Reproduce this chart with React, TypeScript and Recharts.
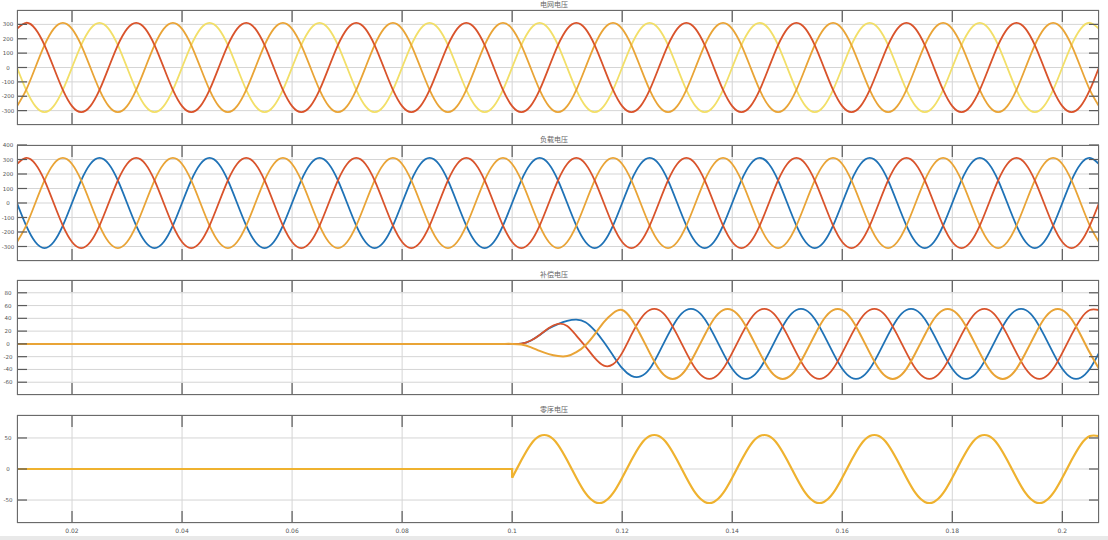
import React from 'react';
import { LineChart, Line, XAxis, YAxis, CartesianGrid } from 'recharts';

// x = sample index, one step = 1/12 of a 50 Hz cycle (20 ms / 12)
const sampleIdx = Array.from({ length: 119 }, (_, i) => i + 6);
const timeTicks = [12, 24, 36, 48, 60, 72, 84, 96, 108, 120];
const timeLabels = ['0.02', '0.04', '0.06', '0.08', '0.1', '0.12', '0.14', '0.16', '0.18', '0.2'];
const ONSET = 60; // t = 0.1 s

const titles = ['电网电压', '负载电压', '补偿电压', '零序电压'];

const gridTicks = [-300, -200, -100, 0, 100, 200, 300];
const loadTicks = [-300, -200, -100, 0, 100, 200, 300, 400];
const compTicks = [-60, -40, -20, 0, 20, 40, 60, 80];
const zeroTicks = [-50, 0, 50];

// grid / load voltage (same in both panels), phase a, b, c
const gridA = [
  269, 311, 269, 156, 0, -156, -269, -311, -269, -156, 0, 156,
  269, 311, 269, 156, 0, -156, -269, -311, -269, -156, 0, 156,
  269, 311, 269, 156, 0, -156, -269, -311, -269, -156, 0, 156,
  269, 311, 269, 156, 0, -156, -269, -311, -269, -156, 0, 156,
  269, 311, 269, 156, 0, -156, -269, -311, -269, -156, 0, 156,
  269, 311, 269, 156, 0, -156, -269, -311, -269, -156, 0, 156,
  269, 311, 269, 156, 0, -156, -269, -311, -269, -156, 0, 156,
  269, 311, 269, 156, 0, -156, -269, -311, -269, -156, 0, 156,
  269, 311, 269, 156, 0, -156, -269, -311, -269, -156, 0, 156,
  269, 311, 269, 156, 0, -156, -269, -311, -269, -156, 0,
];
const gridB = [
  -269, -156, 0, 156, 269, 311, 269, 156, 0, -156, -269, -311,
  -269, -156, 0, 156, 269, 311, 269, 156, 0, -156, -269, -311,
  -269, -156, 0, 156, 269, 311, 269, 156, 0, -156, -269, -311,
  -269, -156, 0, 156, 269, 311, 269, 156, 0, -156, -269, -311,
  -269, -156, 0, 156, 269, 311, 269, 156, 0, -156, -269, -311,
  -269, -156, 0, 156, 269, 311, 269, 156, 0, -156, -269, -311,
  -269, -156, 0, 156, 269, 311, 269, 156, 0, -156, -269, -311,
  -269, -156, 0, 156, 269, 311, 269, 156, 0, -156, -269, -311,
  -269, -156, 0, 156, 269, 311, 269, 156, 0, -156, -269, -311,
  -269, -156, 0, 156, 269, 311, 269, 156, 0, -156, -269,
];
const gridC = [
  0, -156, -269, -311, -269, -156, 0, 156, 269, 311, 269, 156,
  0, -156, -269, -311, -269, -156, 0, 156, 269, 311, 269, 156,
  0, -156, -269, -311, -269, -156, 0, 156, 269, 311, 269, 156,
  0, -156, -269, -311, -269, -156, 0, 156, 269, 311, 269, 156,
  0, -156, -269, -311, -269, -156, 0, 156, 269, 311, 269, 156,
  0, -156, -269, -311, -269, -156, 0, 156, 269, 311, 269, 156,
  0, -156, -269, -311, -269, -156, 0, 156, 269, 311, 269, 156,
  0, -156, -269, -311, -269, -156, 0, 156, 269, 311, 269, 156,
  0, -156, -269, -311, -269, -156, 0, 156, 269, 311, 269, 156,
  0, -156, -269, -311, -269, -156, 0, 156, 269, 311, 269,
];

// compensation voltage, starts at 0.1 s
const compRed = [
  0, 0, 0, 0, 0, 0, 0, 0, 0, 0, 0, 0,
  0, 0, 0, 0, 0, 0, 0, 0, 0, 0, 0, 0,
  0, 0, 0, 0, 0, 0, 0, 0, 0, 0, 0, 0,
  0, 0, 0, 0, 0, 0, 0, 0, 0, 0, 0, 0,
  0, 0, 0, 0, 0, 0, 0, 0.5, 5, 14, 25, 31.5,
  28, 13, -4, -22, -34, -32, -14, 14, 39, 53, 53, 39,
  14, -14, -39, -53, -53, -39, -14, 14, 39, 53, 53, 39,
  14, -14, -39, -53, -53, -39, -14, 14, 39, 53, 53, 39,
  14, -14, -39, -53, -53, -39, -14, 14, 39, 53, 53, 39,
  14, -14, -39, -53, -53, -39, -14, 14, 39, 53, 53,
];
const compOrange = [
  0, 0, 0, 0, 0, 0, 0, 0, 0, 0, 0, 0,
  0, 0, 0, 0, 0, 0, 0, 0, 0, 0, 0, 0,
  0, 0, 0, 0, 0, 0, 0, 0, 0, 0, 0, 0,
  0, 0, 0, 0, 0, 0, 0, 0, 0, 0, 0, 0,
  0, 0, 0, 0, 0, 0, 0, -1, -5, -11, -16, -19,
  -19, -13, -2, 15, 34, 48, 53, 39, 14, -14, -39, -53,
  -53, -39, -14, 14, 39, 53, 53, 39, 14, -14, -39, -53,
  -53, -39, -14, 14, 39, 53, 53, 39, 14, -14, -39, -53,
  -53, -39, -14, 14, 39, 53, 53, 39, 14, -14, -39, -53,
  -53, -39, -14, 14, 39, 53, 53, 39, 14, -14, -39,
];
const compBlue = [
  0, 0, 0, 0, 0, 0, 0, 0, 0, 0, 0, 0,
  0, 0, 0, 0, 0, 0, 0, 0, 0, 0, 0, 0,
  0, 0, 0, 0, 0, 0, 0, 0, 0, 0, 0, 0,
  0, 0, 0, 0, 0, 0, 0, 0, 0, 0, 0, 0,
  0, 0, 0, 0, 0, 0, 0, 0.5, 5, 14, 24, 31,
  36, 38, 34, 21, 3, -18, -38, -50, -51, -39, -14, 14,
  39, 53, 53, 39, 14, -14, -39, -53, -53, -39, -14, 14,
  39, 53, 53, 39, 14, -14, -39, -53, -53, -39, -14, 14,
  39, 53, 53, 39, 14, -14, -39, -53, -53, -39, -14, 14,
  39, 53, 53, 39, 14, -14, -39, -53, -53, -39, -14,
];

// zero sequence voltage
const zeroSeq = [
  0, 0, 0, 0, 0, 0, 0, 0, 0, 0, 0, 0,
  0, 0, 0, 0, 0, 0, 0, 0, 0, 0, 0, 0,
  0, 0, 0, 0, 0, 0, 0, 0, 0, 0, 0, 0,
  0, 0, 0, 0, 0, 0, 0, 0, 0, 0, 0, 0,
  0, 0, 0, 0, 0, 0, -14, 14, 39, 53, 53, 39,
  14, -14, -39, -53, -53, -39, -14, 14, 39, 53, 53, 39,
  14, -14, -39, -53, -53, -39, -14, 14, 39, 53, 53, 39,
  14, -14, -39, -53, -53, -39, -14, 14, 39, 53, 53, 39,
  14, -14, -39, -53, -53, -39, -14, 14, 39, 53, 53, 39,
  14, -14, -39, -53, -53, -39, -14, 14, 39, 53, 53,
];

const gridRows = sampleIdx.map((n, i) => ({ n, a: gridA[i], b: gridB[i], c: gridC[i] }));
const compRows = sampleIdx.map((n, i) => ({ n, r: compRed[i], o: compOrange[i], b: compBlue[i] }));
const zeroRows = sampleIdx.map((n, i) => ({
  n,
  flat: n <= ONSET ? zeroSeq[i] : null,
  wave: n >= ONSET ? zeroSeq[i] : null,
}));

const W = 1108;
const LEFT = 17;
const RIGHT = 1099;
const MT = 10;
const RED = '#d9532b';
const ORANGE = '#e9a436';
const YELLOW = '#f2df68';
const BLUE = '#1f72b6';
const TICK = '#5a5a5a';
const sans = '"DejaVu Sans", sans-serif';

const makeXTick = (plotH: number, showLabel: boolean) => (props: any) => {
  const { x, payload } = props;
  const bottom = MT + plotH;
  const label = timeLabels[timeTicks.indexOf(payload.value)];
  return (
    <g>
      <line x1={x} x2={x} y1={MT} y2={MT + 12} stroke={TICK} strokeWidth={1.2} />
      <line x1={x} x2={x} y1={bottom - 12} y2={bottom} stroke={TICK} strokeWidth={1.2} />
      {showLabel && (
        <text x={x} y={bottom + 10} textAnchor="middle" fontSize={6} fill="#555" fontFamily={sans}>
          {label}
        </text>
      )}
    </g>
  );
};

const YTick = (props: any) => {
  const { y, payload } = props;
  return (
    <g>
      <line x1={LEFT} x2={LEFT + 10} y1={y} y2={y} stroke={TICK} strokeWidth={1.2} />
      <line x1={RIGHT - 10} x2={RIGHT} y1={y} y2={y} stroke={TICK} strokeWidth={1.2} />
      <text x={8} y={y} dy={2} textAnchor="middle" fontSize={5.5} fill="#555" fontFamily={sans}>
        {payload.value}
      </text>
    </g>
  );
};

function Panel({ title, top, bottom, rows, yDomain, yTicks, showTime, children }: any) {
  const plotH = bottom - top;
  const hb = showTime ? 16 : 2;
  const h = MT + plotH + hb;
  return (
    <div style={{ position: 'absolute', left: 0, top: top - MT, width: W, height: h }}>
      <div
        style={{
          position: 'absolute', left: 0, top: 0, width: W, textAlign: 'center',
          fontSize: 7, lineHeight: '8px', color: '#666', fontFamily: '"Noto Sans CJK SC", sans-serif',
        }}
      >
        {title}
      </div>
      <LineChart width={W} height={h} data={rows} margin={{ top: MT, right: W - RIGHT, bottom: 0, left: 0 }}>
        <CartesianGrid stroke="#d5d5d5" strokeWidth={1} />
        <XAxis
          dataKey="n" type="number" domain={[6, 124]} ticks={timeTicks} interval={0}
          tick={makeXTick(plotH, showTime)} tickLine={false} axisLine={false} height={hb} allowDataOverflow
        />
        <YAxis
          type="number" domain={yDomain} ticks={yTicks} interval={0} tick={<YTick />}
          tickLine={false} axisLine={false} width={LEFT} allowDataOverflow
        />
        {children}
      </LineChart>
      <div
        style={{
          position: 'absolute', left: LEFT, top: MT, width: RIGHT - LEFT, height: plotH,
          border: '1px solid #6a6a6a', boxSizing: 'border-box', pointerEvents: 'none',
        }}
      />
    </div>
  );
}

export default function App() {
  return (
    <div style={{ position: 'absolute', left: 0, top: 0, width: W, height: 540, background: '#fff', overflow: 'hidden' }}>
      <Panel title={titles[0]} top={10} bottom={125} rows={gridRows} yDomain={[-400, 400]} yTicks={gridTicks} showTime={false}>
        <Line dataKey="c" type="natural" stroke={YELLOW} strokeWidth={1.8} dot={false} isAnimationActive={false} />
        <Line dataKey="b" type="natural" stroke={ORANGE} strokeWidth={1.8} dot={false} isAnimationActive={false} />
        <Line dataKey="a" type="natural" stroke={RED} strokeWidth={1.8} dot={false} isAnimationActive={false} />
      </Panel>
      <Panel title={titles[1]} top={145} bottom={261} rows={gridRows} yDomain={[-400, 400]} yTicks={loadTicks} showTime={false}>
        <Line dataKey="c" type="natural" stroke={BLUE} strokeWidth={1.8} dot={false} isAnimationActive={false} />
        <Line dataKey="b" type="natural" stroke={ORANGE} strokeWidth={1.8} dot={false} isAnimationActive={false} />
        <Line dataKey="a" type="natural" stroke={RED} strokeWidth={1.8} dot={false} isAnimationActive={false} />
      </Panel>
      <Panel title={titles[2]} top={280} bottom={395} rows={compRows} yDomain={[-80, 100]} yTicks={compTicks} showTime={false}>
        <Line dataKey="b" type="natural" stroke={BLUE} strokeWidth={1.8} dot={false} isAnimationActive={false} />
        <Line dataKey="r" type="natural" stroke={RED} strokeWidth={1.8} dot={false} isAnimationActive={false} />
        <Line dataKey="o" type="natural" stroke={ORANGE} strokeWidth={2} dot={false} isAnimationActive={false} />
      </Panel>
      <Panel title={titles[3]} top={415} bottom={523} rows={zeroRows} yDomain={[-87, 87]} yTicks={zeroTicks} showTime>
        <Line dataKey="flat" type="stepAfter" stroke="#efb22f" strokeWidth={2.2} dot={false} isAnimationActive={false} />
        <Line dataKey="wave" type="natural" stroke="#efb22f" strokeWidth={2.2} dot={false} isAnimationActive={false} />
      </Panel>
      <div style={{ position: 'absolute', left: 0, top: 536, width: W, height: 4, background: '#e9e9e9' }} />
    </div>
  );
}
